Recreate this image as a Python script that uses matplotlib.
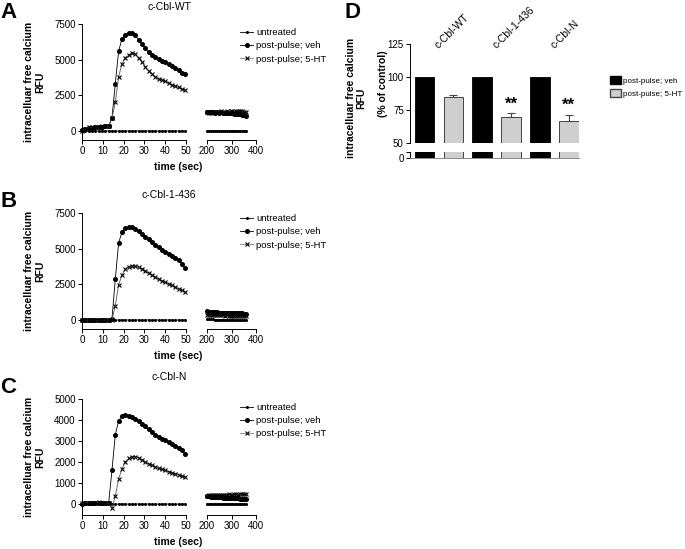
import matplotlib
matplotlib.use('Agg')
import matplotlib.pyplot as plt
from matplotlib.patches import Patch
from matplotlib.lines import Line2D

plt.rcParams['font.family'] = ['Liberation Sans', 'DejaVu Sans']

W, H = 685, 549

# time points (sec)
t1 = [0, 1.6, 3.2, 4.8, 6.4, 8.0, 9.6, 11.2, 12.8, 14.4, 16.0, 17.6, 19.2, 20.8, 22.4, 24.0,
      25.6, 27.2, 28.8, 30.4, 32.0, 33.6, 35.2, 36.8, 38.4, 40.0, 41.6, 43.2, 44.8, 46.4, 48.0, 49.6]
t2 = [200, 208, 216, 224, 232, 240, 248, 256, 264, 272, 280, 288, 296, 304, 312, 320, 328, 336, 344, 352, 360]

labels = ['untreated', 'post-pulse; veh', 'post-pulse; 5-HT']

# panel A: c-Cbl-WT
wt_untr1 = [0, 5, 0, -5, 0, 5, 0, 0, 5, 0, -5, 0, 5, 0, 0, -5, 0, 5, 0, 0, 5, 0, -5, 0, 0, 5, 0, 0, -5, 0, 5, 0]
wt_veh1 = [50, 150, 200, 220, 250, 280, 300, 320, 330, 900, 3300, 5600, 6450, 6750, 6850, 6900,
           6700, 6400, 6100, 5800, 5550, 5350, 5200, 5050, 4900, 4850, 4700, 4550, 4400, 4250, 4100, 4000]
wt_ht1 = [0, 150, 250, 250, 280, 300, 320, 330, 350, 900, 2000, 3800, 4700, 5150, 5300, 5500,
          5400, 5100, 4850, 4500, 4200, 4000, 3800, 3650, 3600, 3500, 3350, 3250, 3150, 3050, 2950, 2850]
wt_untr2 = [0, 5, 0, -5, 0, 5, 0, 0, -5, 0, 5, 0, 0, -5, 0, 5, 0, 0, 5, 0, 0]
wt_veh2 = [1350, 1320, 1300, 1330, 1290, 1310, 1280, 1300, 1270, 1260, 1280, 1250, 1240, 1230,
           1220, 1200, 1180, 1160, 1140, 1100, 1050]
wt_ht2 = [1300, 1250, 1280, 1320, 1350, 1300, 1340, 1380, 1350, 1320, 1400, 1360, 1380, 1400,
          1350, 1380, 1400, 1420, 1380, 1350, 1300]

# panel B: c-Cbl-1-436
d436_untr1 = [0, 5, 0, -5, 0, 5, 0, 0, 5, 0, -5, 0, 5, 0, 0, -5, 0, 5, 0, 0, 5, 0, -5, 0, 0, 5, 0, 0, -5, 0, 5, 0]
d436_veh1 = [0, 10, -10, 0, 10, 0, -10, 0, 10, 50, 2850, 5400, 6150, 6450, 6500, 6500,
             6400, 6250, 6050, 5850, 5650, 5450, 5250, 5100, 4900, 4780, 4650, 4500, 4350, 4200, 3950, 3650]
d436_ht1 = [0, -10, 0, 10, 0, -10, 0, 10, 0, 30, 1000, 2450, 3150, 3550, 3750, 3800,
            3780, 3700, 3600, 3450, 3300, 3150, 3000, 2850, 2750, 2650, 2550, 2450, 2300, 2200, 2100, 1950]
d436_untr2 = [60, 50, 40, 40, 30, 30, 30, 20, 20, 20, 10, 10, 10, 0, 0, 0, 0, -10, 0, -10, 0]
d436_veh2 = [600, 580, 560, 550, 540, 530, 520, 520, 510, 500, 500, 490, 490, 480, 480, 470,
             470, 460, 460, 450, 450]
d436_ht2 = [350, 360, 340, 350, 330, 340, 320, 330, 320, 310, 320, 300, 310, 300, 290, 300,
            290, 280, 290, 280, 270]

# panel C: c-Cbl-N
n_untr1 = [0, 5, 0, -5, 0, 5, 0, 0, 5, 0, -5, 0, 5, 0, 0, -5, 0, 5, 0, 0, 5, 0, -5, 0, 0, 5, 0, 0, -5, 0, 5, 0]
n_veh1 = [20, 40, 50, 60, 70, 60, 70, 60, 50, 1600, 3300, 3950, 4200, 4230, 4200, 4120,
          4050, 3950, 3800, 3700, 3550, 3450, 3300, 3200, 3100, 3050, 2950, 2850, 2750, 2650, 2550, 2400]
n_ht1 = [30, 50, 60, 50, 70, 80, 60, 50, 40, -200, 380, 1190, 1670, 2010, 2170, 2250,
         2250, 2200, 2100, 2000, 1920, 1850, 1780, 1700, 1650, 1600, 1550, 1500, 1450, 1400, 1350, 1300]
n_untr2 = [0, 5, 0, -5, 0, 5, 0, 0, -5, 0, 5, 0, 0, -5, 0, 5, 0, 0, 5, 0, 0]
n_veh2 = [380, 370, 360, 350, 340, 330, 330, 320, 310, 300, 300, 290, 290, 280, 280, 270,
          270, 260, 260, 250, 250]
n_ht2 = [400, 420, 410, 430, 440, 420, 430, 450, 440, 430, 450, 460, 440, 450, 470, 460,
         450, 470, 480, 460, 470]

# panel D
bar_groups = ['c-Cbl-WT', 'c-Cbl-1-436', 'c-Cbl-N']
veh_pct = [100, 100, 100]
ht_pct = [85, 69.4, 66.7]
ht_err = [1.6, 3.0, 4.5]
sig = ['', '**', '**']


def rect(l, t, r, b):
    return [l / W, 1 - b / H, (r - l) / W, (b - t) / H]


def style_series(ax, t, u, v, h):
    ax.plot(t, u, color='black', lw=0.6, marker='o', ms=1.2, clip_on=False)
    ax.plot(t, v, color='black', lw=0.6, marker='o', ms=2.6, clip_on=False)
    ax.plot(t, h, color='#555555', lw=0.6, marker='x', ms=3.0, mew=0.8, mec='black', clip_on=False)


def time_panel(fig, top, bottom, ylim, yticks, title, title_y, letter, data1, data2, leg_y):
    ax1 = fig.add_axes(rect(82, top, 186, bottom))
    ax2 = fig.add_axes(rect(207, top, 256, bottom))
    style_series(ax1, t1, *data1)
    style_series(ax2, t2, *data2)
    ax1.set_xlim(0, 50)
    ax2.set_xlim(200, 400)
    for ax in (ax1, ax2):
        ax.set_ylim(*ylim)
        ax.spines['top'].set_visible(False)
        ax.spines['right'].set_visible(False)
        ax.spines['bottom'].set_linewidth(0.7)
        ax.spines['left'].set_linewidth(0.7)
        ax.tick_params(labelsize=7, length=3, width=0.7, pad=1.5)
    ax1.set_xticks([0, 10, 20, 30, 40, 50])
    ax2.set_xticks([200, 300, 400])
    ax1.set_yticks(yticks)
    ax2.spines['left'].set_visible(False)
    ax2.set_yticks([])
    fig.text(169 / W, 1 - title_y / H, title, ha='center', va='center', fontsize=7.5)
    fig.text(34.5 / W, 1 - (top + bottom) / 2 / H, 'intracelluar free calcium\nRFU',
             rotation=90, ha='center', va='center', fontsize=7.5, fontweight='bold', linespacing=1.1)
    fig.text(178 / W, 1 - (bottom + 27) / H, 'time (sec)', ha='center', va='center',
             fontsize=7.5, fontweight='bold')
    fig.text(0, 1 - (top - 22) / H, letter, ha='left', va='top', fontsize=16, fontweight='black')
    handles = [
        Line2D([], [], color='black', lw=0.6, marker='o', ms=1.2),
        Line2D([], [], color='black', lw=0.6, marker='o', ms=2.6),
        Line2D([], [], color='#999999', lw=0.8, marker='x', ms=3.0, mew=0.8, mec='black'),
    ]
    fig.legend(handles, labels, loc='upper left', bbox_to_anchor=(240 / W, 1 - leg_y / H),
               frameon=False, fontsize=6.8, handlelength=1.4, handletextpad=0.3,
               labelspacing=0.45, borderpad=0, borderaxespad=0)
    return ax1, ax2


fig = plt.figure(figsize=(W / 100, H / 100), dpi=100)

time_panel(fig, 24, 140, (-630, 7500), [0, 2500, 5000, 7500], 'c-Cbl-WT', 7, 'A',
           (wt_untr1, wt_veh1, wt_ht1), (wt_untr2, wt_veh2, wt_ht2), 28)
time_panel(fig, 213, 329, (-630, 7500), [0, 2500, 5000, 7500], 'c-Cbl-1-436', 195, 'B',
           (d436_untr1, d436_veh1, d436_ht1), (d436_untr2, d436_veh2, d436_ht2), 214)
time_panel(fig, 399, 515, (-520, 5000), [0, 1000, 2000, 3000, 4000, 5000], 'c-Cbl-N', 377, 'C',
           (n_untr1, n_veh1, n_ht1), (n_untr2, n_veh2, n_ht2), 403)

# panel D: broken-axis bar chart
axu = fig.add_axes(rect(410, 44, 579, 143))
axl = fig.add_axes(rect(410, 152, 579, 158))
xs_veh = [0, 2, 4]
xs_ht = [1, 3, 5]
for ax in (axu, axl):
    ax.bar(xs_veh, veh_pct, width=0.68, color='black', edgecolor='black', lw=0.6)
    ax.bar(xs_ht, ht_pct, width=0.68, color='#cfcfcf', edgecolor='#444444', lw=0.7)
    ax.set_xlim(-0.5, 5.35)
    ax.spines['top'].set_visible(False)
    ax.spines['right'].set_visible(False)
    ax.spines['left'].set_linewidth(0.7)
    ax.spines['bottom'].set_linewidth(0.7)
    ax.set_xticks([])
    ax.tick_params(labelsize=7, length=3, width=0.7, pad=1.5)
axu.errorbar(xs_ht, ht_pct, yerr=[[0, 0, 0], ht_err], fmt='none', ecolor='#444444',
             elinewidth=0.8, capsize=3, capthick=0.8)
axu.set_ylim(50, 125)
axu.set_yticks([50, 75, 100, 125])
axu.spines['bottom'].set_visible(False)
axl.set_ylim(0, 4.5)
axl.set_yticks([0, 4.5])
axl.set_yticklabels(['0', ''])
axl.spines['bottom'].set_color('#888888')

for i, s in enumerate(sig):
    if s:
        axu.text(xs_ht[i], ht_pct[i] + ht_err[i] + 1.5, s, ha='center', va='bottom',
                 fontsize=12, fontweight='bold')

for i, g in enumerate(bar_groups):
    axu.text(2 * i + 0.55, 120, g, rotation=45, rotation_mode='anchor',
             ha='left', va='bottom', fontsize=7.5, clip_on=False)

fig.text(356 / W, 1 - 98 / H, 'intracelluar free calcium\nRFU', rotation=90, ha='center',
         va='center', fontsize=7.5, fontweight='bold', linespacing=1.1)
fig.text(383 / W, 1 - 84 / H, '(% of control)', rotation=90, ha='center', va='center',
         fontsize=7.5, fontweight='bold')
fig.text(344 / W, 1 - 2 / H, 'D', ha='left', va='top', fontsize=16, fontweight='black')

dh = [Patch(facecolor='black', edgecolor='black'),
      Patch(facecolor='#cfcfcf', edgecolor='#444444')]
fig.legend(dh, ['post-pulse; veh', 'post-pulse; 5-HT'], loc='upper left',
           bbox_to_anchor=(610 / W, 1 - 76 / H), frameon=False, fontsize=5.8,
           handlelength=1.4, handleheight=1.2, handletextpad=0.25, labelspacing=0.5,
           borderpad=0, borderaxespad=0)

plt.savefig('out.png', dpi=100)
